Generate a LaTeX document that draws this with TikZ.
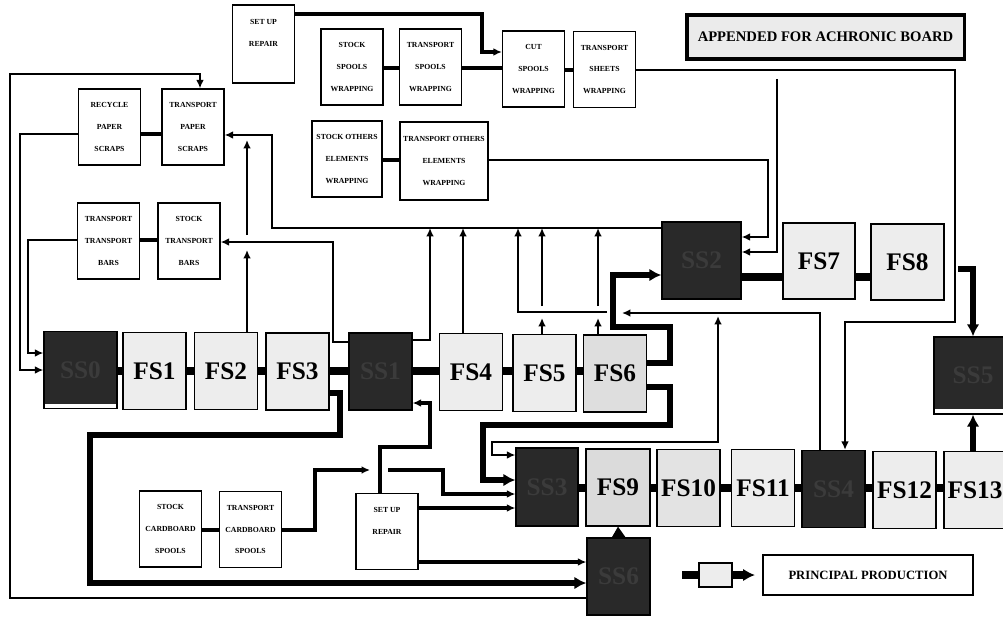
\documentclass[tikz,border=0pt]{standalone}
\usepackage{fontspec}
\setmainfont{Liberation Serif}
\usetikzlibrary{arrows.meta}

\begin{document}
\begin{tikzpicture}[x=0.025cm, y=-0.025cm,
    box/.style={draw, line width=0.9pt, fill=white, align=center, inner sep=0pt,
      minimum width=1.55cm, minimum height=1.9cm,
      font=\fontsize{5.5}{15.6}\selectfont\bfseries},
    fsbox/.style={draw, line width=0.9pt, fill=black!7, inner sep=0pt,
      minimum width=1.575cm, minimum height=1.925cm,
      font=\fontsize{18}{18}\selectfont\bfseries},
    ssbox/.style={fsbox, fill=black!84, text=black!77},
    strip/.style={path picture={\fill[white]
      ([yshift=0.12cm]path picture bounding box.south west)
      rectangle (path picture bounding box.south east);}},
    wire/.style={line width=1.4pt},
    mid/.style={line width=2.2pt},
    heavy/.style={line width=4pt},
    prin/.style={line width=5pt},
    arrowhd/.style={-{Latex[length=6pt,width=5.5pt]}},
    botharrow/.style={{Latex[length=6pt,width=5.5pt]}-{Latex[length=6pt,width=5.5pt]}},
    bigarrow/.style={-{Latex[length=8.5pt,width=9pt]}},
  ]
  \useasboundingbox (0,0) rectangle (1003,617);

  % upper boxes
  \node[box, minimum height=1.95cm] (setupA) at (263.5,44) {SET UP\\REPAIR\\~};
  \node[box] (recycle) at (109.5,127) {RECYCLE\\PAPER\\SCRAPS};
  \node[box] (trpaper) at (193,127) {TRANSPORT\\PAPER\\SCRAPS};
  \node[box] (stspool) at (352,67) {STOCK\\SPOOLS\\WRAPPING};
  \node[box] (trspool) at (430.5,67) {TRANSPORT\\SPOOLS\\WRAPPING};
  \node[box] (cutspool) at (533.5,69) {CUT\\SPOOLS\\WRAPPING};
  \node[box] (trsheet) at (604.5,69.5) {TRANSPORT\\SHEETS\\WRAPPING};
  \node[box, minimum width=1.75cm] (stother) at (347,159) {STOCK OTHERS\\ELEMENTS\\WRAPPING};
  \node[box, minimum width=2.2cm, minimum height=1.95cm] (trother) at (444,161)
    {TRANSPORT OTHERS\\ELEMENTS\\WRAPPING};
  \node[box] (trbars) at (108.5,241) {TRANSPORT\\TRANSPORT\\BARS};
  \node[box] (stbars) at (189,241) {STOCK\\TRANSPORT\\BARS};
  \node[draw, line width=2.2pt, fill=black!8, minimum width=6.925cm, minimum height=1.1cm,
    font=\fontsize{10.4}{12}\selectfont\bfseries] (board) at (825.5,37)
    {APPENDED FOR ACHRONIC BOARD};

  % production line one
  \node[ssbox, strip, minimum width=1.825cm] (ss0) at (80.5,370) {SS0};
  \node[fsbox] (fs1) at (154.5,371) {FS1};
  \node[fsbox] (fs2) at (226,371) {FS2};
  \node[fsbox] (fs3) at (297.5,371.5) {FS3};
  \node[ssbox] (ss1) at (380.5,371.5) {SS1};
  \node[fsbox] (fs4) at (471,372) {FS4};
  \node[fsbox] (fs5) at (544.5,373) {FS5};
  \node[fsbox, fill=black!13] (fs6) at (615,373.5) {FS6};

  % production line two
  \node[ssbox, minimum width=1.975cm] (ss2) at (701.5,260.5) {SS2};
  \node[fsbox, minimum width=1.8cm, minimum height=1.9cm] (fs7) at (819,261) {FS7};
  \node[fsbox, minimum width=1.825cm, minimum height=1.9cm] (fs8) at (907.5,262) {FS8};
  \node[ssbox, strip, minimum width=1.95cm] (ss5) at (973,375.5) {SS5};

  % production line three
  \node[ssbox, minimum width=1.55cm, minimum height=1.95cm] (ss3) at (547,487) {SS3};
  \node[fsbox, fill=black!14, minimum width=1.6cm] (fs9) at (618,487.5) {FS9};
  \node[fsbox, fill=black!11] (fs10) at (688.5,488) {FS10};
  \node[fsbox] (fs11) at (763,488) {FS11};
  \node[ssbox] (ss4) at (833.5,489) {SS4};
  \node[fsbox] (fs12) at (904.5,490) {FS12};
  \node[fsbox, minimum width=1.55cm] (fs13) at (975,490) {FS13};
  \node[ssbox] (ss6) at (618.5,576.5) {SS6};

  % lower boxes
  \node[box] (setupB) at (387,531.5) {SET UP\\REPAIR\\~};
  \node[box] (stcard) at (170.5,529) {STOCK\\CARDBOARD\\SPOOLS};
  \node[box] (trcard) at (250.5,529.5) {TRANSPORT\\CARDBOARD\\SPOOLS};

  % legend
  \node[draw, line width=0.9pt, fill=black!7, minimum width=0.825cm, minimum height=0.6cm]
    (legend) at (715.5,575) {};
  \node[draw, line width=0.9pt, minimum width=5.25cm, minimum height=1cm,
    font=\fontsize{9}{11}\selectfont\bfseries] (principal) at (868,575) {PRINCIPAL PRODUCTION};
  \draw[prin] (682,575) -- (legend.west);
  \draw[prin, bigarrow] (legend.east) -- (755,575);

  % principal production links
  \foreach \a/\b in {ss0/fs1, fs1/fs2, fs2/fs3, fs3/ss1, ss1/fs4, fs4/fs5, fs5/fs6}
    \draw[prin] (\a.east |- 0,371) -- (\b.west |- 0,371);
  \foreach \a/\b in {ss2/fs7, fs7/fs8}
    \draw[prin] (\a.east |- 0,277) -- (\b.west |- 0,277);
  \foreach \a/\b in {ss3/fs9, fs9/fs10, fs10/fs11, fs11/ss4, ss4/fs12, fs12/fs13}
    \draw[prin] (\a.east |- 0,488) -- (\b.west |- 0,488);
  \draw[heavy, bigarrow] (958,269) -| (ss5.north);
  \draw[heavy, bigarrow] (ss5.south |- fs13.north) -- (ss5.south);
  \draw[line width=1pt, -{Triangle[length=8pt,width=10pt]}] (ss6.north) -- (fs9.south);

  % rework loops
  \draw[heavy, bigarrow] (fs3.east |- 0,393) -- (340,393) -- (340,435) -- (90,435)
    -- (90,583) -- (ss6.west |- 0,583);
  \draw[heavy, bigarrow] (fs6.east |- 0,363) -- (670,363) -- (670,327) -- (613,327)
    -- (613,275) -- (ss2.west |- 0,275);
  \draw[heavy, bigarrow] (fs6.east |- 0,387) -- (670,387) -- (670,425) -- (483,425)
    -- (483,480) -- (ss3.west |- 0,480);

  % wrapping supply
  \draw[mid, arrowhd] (setupA.east |- 0,14) -- (482,14) -- (482,52) -- (cutspool.west |- 0,52);
  \draw[mid] (stspool.east |- 0,68) -- (trspool.west |- 0,68);
  \draw[mid] (trspool.east |- 0,68) -- (cutspool.west |- 0,68);
  \draw[mid] (cutspool.east |- 0,70) -- (trsheet.west |- 0,70);
  \draw[wire, arrowhd] (trsheet.east |- 0,70) -- (955,70) -- (955,322) -- (845,322)
    -- (845,0 |- ss4.north);
  \draw[wire, arrowhd] (777,79) -- (777,252) -- (ss2.east |- 0,252);
  \draw[mid] (stother.east |- 0,160) -- (trother.west |- 0,160);
  \draw[wire, arrowhd] (trother.east |- 0,160) -- (768,160) -- (768,237) -- (ss2.east |- 0,237);

  % paper scraps
  \draw[mid] (recycle.east |- 0,134) -- (trpaper.west |- 0,134);
  \draw[wire, arrowhd] (ss2.west |- 0,228) -- (272,228) -- (272,135) -- (trpaper.east |- 0,135);
  \draw[wire, arrowhd] (ss1.east |- 0,340) -- (430,340) -- (430,228);
  \draw[wire, arrowhd] (463,0 |- fs4.north) -- (463,228);
  \draw[wire, arrowhd] (542,0 |- fs5.north) -- (542,318);
  \draw[wire, arrowhd] (598,0 |- fs6.north) -- (598,318);
  \draw[wire, arrowhd] (607,312) -- (518,312) -- (518,228);
  \draw[wire, arrowhd] (542,306) -- (542,228);
  \draw[wire, arrowhd] (598,306) -- (598,228);
  \draw[wire, arrowhd] (820,0 |- ss4.north) -- (820,313) -- (622,313);
  \draw[wire, botharrow] (718,316) -- (718,442) -- (492,442) -- (492,455)
    -- (ss3.west |- 0,455);
  \draw[wire, arrowhd] (247,0 |- fs2.north) -- (247,250);
  \draw[wire, arrowhd] (247,235) -- (247,140);
  \draw[wire, arrowhd] (ss6.west |- 0,598) -- (10,598) -- (10,74) -- (200,74)
    -- (200,0 |- trpaper.north);

  % bars
  \draw[mid] (trbars.east |- 0,240) -- (stbars.west |- 0,240);
  \draw[wire, arrowhd] (ss1.west |- 0,342) -- (333,342) -- (333,242) -- (stbars.east |- 0,242);
  \draw[wire, arrowhd] (recycle.west |- 0,134) -- (20,134) -- (20,370) -- (ss0.west |- 0,370);
  \draw[wire, arrowhd] (trbars.west |- 0,240) -- (28,240) -- (28,353) -- (ss0.west |- 0,353);

  % cardboard and set up
  \draw[mid] (stcard.east |- 0,530) -- (trcard.west |- 0,530);
  \draw[mid, arrowhd] (trcard.east |- 0,530) -- (315,530) -- (315,470) -- (370,470);
  \draw[mid, arrowhd] (388,470) -- (443,470) -- (443,494) -- (ss3.west |- 0,494);
  \draw[mid, arrowhd] (380,0 |- setupB.north) -- (380,447) -- (430,447) -- (430,403)
    -- (ss1.east |- 0,403);
  \draw[mid, arrowhd] (setupB.east |- 0,508) -- (ss3.west |- 0,508);
  \draw[mid, arrowhd] (setupB.east |- 0,562) -- (ss6.west |- 0,562);
\end{tikzpicture}
\end{document}
